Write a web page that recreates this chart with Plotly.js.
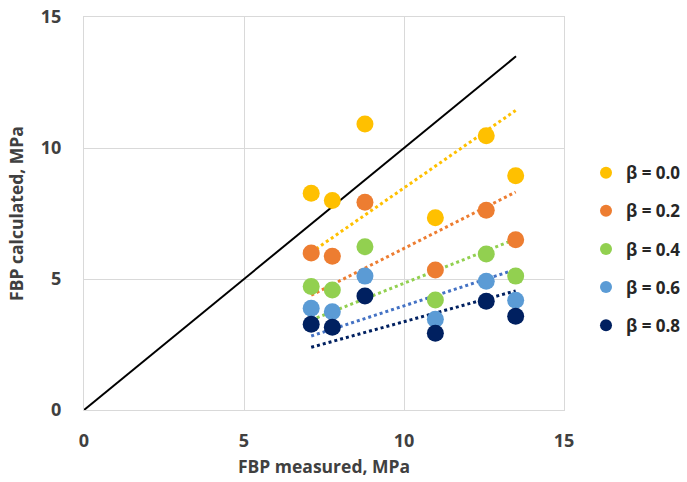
<!DOCTYPE html>
<html>
<head>
<meta charset="utf-8">
<script src="https://cdn.plot.ly/plotly-3.0.1.min.js"></script>
<style>html,body{margin:0;padding:0;background:#fff;}#chart{width:687px;height:482px;}</style>
</head>
<body>
<div id="chart"></div>
<script>
// Data
const measured = [7.1, 7.76, 8.78, 10.98, 12.57, 13.49];
const beta00 = [8.27, 8.00, 10.92, 7.34, 10.47, 8.94];
const beta02 = [5.99, 5.87, 7.93, 5.34, 7.62, 6.50];
const beta04 = [4.71, 4.58, 6.23, 4.20, 5.95, 5.11];
const beta06 = [3.88, 3.75, 5.11, 3.46, 4.91, 4.19];
const beta08 = [3.27, 3.16, 4.35, 2.93, 4.15, 3.58];
const seriesNames = ['β = 0.0', 'β = 0.2', 'β = 0.4', 'β = 0.6', 'β = 0.8'];
const equalityX = [0, 13.5];
const xTicks = [0, 5, 10, 15];
const yTicks = [0, 5, 10, 15];

const seriesValues = [beta00, beta02, beta04, beta06, beta08];
const markerColors = ['#FFC000', '#ED7D31', '#92D050', '#5B9BD5', '#002060'];
const trendColors = ['#FFC000', '#ED7D31', '#92D050', '#4472C4', '#002060'];

// Linear trendline with intercept forced to zero (least squares)
function slopeThroughOrigin(xs, ys) {
  let sxy = 0, sxx = 0;
  for (let i = 0; i < xs.length; i++) { sxy += xs[i] * ys[i]; sxx += xs[i] * xs[i]; }
  return sxy / sxx;
}
const xMin = Math.min(...measured), xMax = Math.max(...measured);

const traces = [];
traces.push({
  x: equalityX, y: equalityX, mode: 'lines', type: 'scatter',
  line: {color: '#000000', width: 2}, showlegend: false, hoverinfo: 'skip'
});
seriesValues.forEach((vals, i) => {
  const k = slopeThroughOrigin(measured, vals);
  traces.push({
    x: [xMin, xMax], y: [k * xMin, k * xMax], mode: 'lines', type: 'scatter',
    line: {color: trendColors[i], width: 3, dash: 'dot'}, showlegend: false, hoverinfo: 'skip'
  });
});
seriesValues.forEach((vals, i) => {
  traces.push({
    x: measured, y: vals, mode: 'markers', type: 'scatter', name: seriesNames[i],
    legendgroup: 'g' + i,
    marker: {color: markerColors[i], size: 17, line: {width: 0}}
  });
});

const fontFam = '"Open Sans", Lato, sans-serif';
const layout = {
  width: 687, height: 482,
  margin: {l: 84, r: 123, t: 17, b: 72},
  paper_bgcolor: '#ffffff', plot_bgcolor: '#ffffff',
  font: {family: fontFam, color: '#404040', size: 16, weight: 'bold'},
  showlegend: true,
  legend: {
    xref: 'container', yref: 'container',
    x: 0.853, xanchor: 'left', y: 0.678, yanchor: 'top',
    traceorder: 'grouped', tracegroupgap: 13,
    font: {family: fontFam, size: 17, color: '#262626', weight: 'bold'},
    itemsizing: 'constant', bgcolor: 'rgba(0,0,0,0)'
  },
  xaxis: {
    range: [0, 15], tickvals: xTicks, ticktext: xTicks.map(String),
    showgrid: true, gridcolor: '#d9d9d9', gridwidth: 1, zeroline: false,
    showline: true, linecolor: '#d9d9d9', linewidth: 1, mirror: true,
    ticks: '', ticklabelstandoff: 14,
    tickfont: {family: fontFam, size: 18, color: '#404040', weight: 'bold'},
    title: {text: 'FBP measured, MPa', standoff: 10,
      font: {family: fontFam, size: 17.5, color: '#404040', weight: 'bold'}}
  },
  yaxis: {
    range: [0, 15], tickvals: yTicks, ticktext: yTicks.map(String),
    showgrid: true, gridcolor: '#d9d9d9', gridwidth: 1, zeroline: false,
    showline: true, linecolor: '#d9d9d9', linewidth: 1, mirror: true,
    ticks: '', ticklabelstandoff: 18,
    tickfont: {family: fontFam, size: 18, color: '#404040', weight: 'bold'},
    title: {text: 'FBP calculated, MPa', standoff: 12,
      font: {family: fontFam, size: 17.5, color: '#404040', weight: 'bold'}}
  }
};

Plotly.newPlot('chart', traces, layout, {displayModeBar: false, staticPlot: true});
</script>
</body>
</html>
